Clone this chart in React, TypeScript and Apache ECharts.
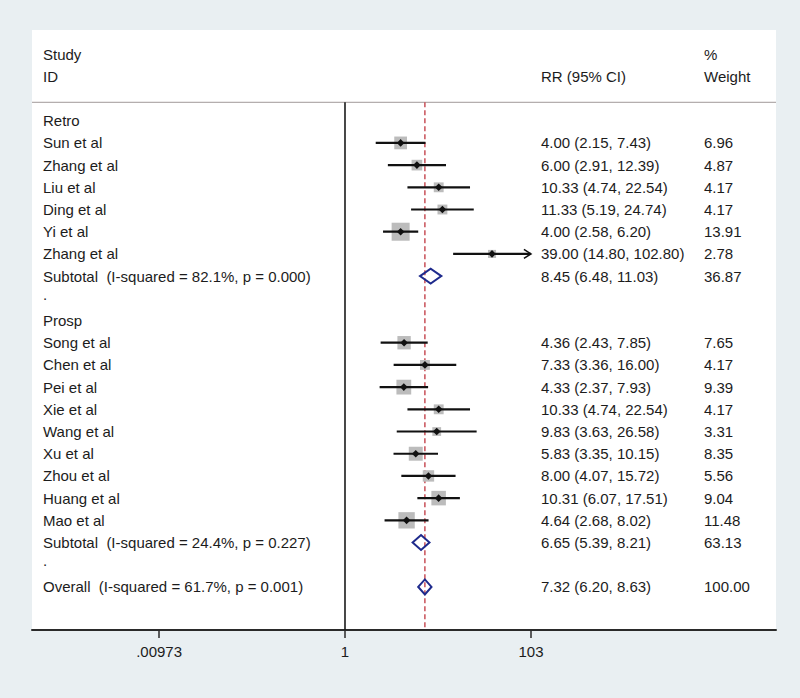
import React, { useEffect, useRef } from "react";
import * as echarts from "echarts";

// ---- data ----
const retroStudies = ["Sun et al", "Zhang et al", "Liu et al", "Ding et al", "Yi et al", "Zhang et al"];
const retroRR = [4.0, 6.0, 10.33, 11.33, 4.0, 39.0];
const retroLow = [2.15, 2.91, 4.74, 5.19, 2.58, 14.8];
const retroHigh = [7.43, 12.39, 22.54, 24.74, 6.2, 102.8];
const retroWeight = [6.96, 4.87, 4.17, 4.17, 13.91, 2.78];

const prospStudies = ["Song et al", "Chen et al", "Pei et al", "Xie et al", "Wang et al", "Xu et al", "Zhou et al", "Huang et al", "Mao et al"];
const prospRR = [4.36, 7.33, 4.33, 10.33, 9.83, 5.83, 8.0, 10.31, 4.64];
const prospLow = [2.43, 3.36, 2.37, 4.74, 3.63, 3.35, 4.07, 6.07, 2.68];
const prospHigh = [7.85, 16.0, 7.93, 22.54, 26.58, 10.15, 15.72, 17.51, 8.02];
const prospWeight = [7.65, 4.17, 9.39, 4.17, 3.31, 8.35, 5.56, 9.04, 11.48];

const pooledLabels = [
  "Subtotal  (I-squared = 82.1%, p = 0.000)",
  "Subtotal  (I-squared = 24.4%, p = 0.227)",
  "Overall  (I-squared = 61.7%, p = 0.001)",
];
const pooledRR = [8.45, 6.65, 7.32];
const pooledLow = [6.48, 5.39, 6.2];
const pooledHigh = [11.03, 8.21, 8.63];
const pooledWeight = [36.87, 63.13, 100.0];

const groupLabels = ["Retro", "Prosp"];
const headerLeft = ["Study", "ID"];
const headerCI = "RR (95% CI)";
const headerWeight = ["%", "Weight"];

const tickValues = [0.00973, 1, 103];
const tickLabels = [".00973", "1", "103"];

// ---- build rows ----
type Row = { row: number; kind: string; label: string; rr?: number; lo?: number; hi?: number; w?: number };
const rows: Row[] = [];
let r = 0;
const addGroup = (gi: number, names: string[], rr: number[], lo: number[], hi: number[], w: number[]) => {
  rows.push({ row: r++, kind: "group", label: groupLabels[gi] });
  names.forEach((n, i) => rows.push({ row: r++, kind: "study", label: n, rr: rr[i], lo: lo[i], hi: hi[i], w: w[i] }));
  rows.push({ row: r++, kind: "pooled", label: pooledLabels[gi], rr: pooledRR[gi], lo: pooledLow[gi], hi: pooledHigh[gi], w: pooledWeight[gi] });
  rows.push({ row: r++, kind: "dot", label: "." });
};
addGroup(0, retroStudies, retroRR, retroLow, retroHigh, retroWeight);
addGroup(1, prospStudies, prospRR, prospLow, prospHigh, prospWeight);
rows.push({ row: r++, kind: "pooled", label: pooledLabels[2], rr: pooledRR[2], lo: pooledLow[2], hi: pooledHigh[2], w: pooledWeight[2] });
rows.push({ row: -3, kind: "header", label: headerLeft[0] });
rows.push({ row: -2, kind: "header", label: headerLeft[1] });

const X_MIN = -3.387;
const X_MAX = 4.664;
const Y_MIN = -4.086;
const Y_MAX = 22.94;
const SEP = -0.83;
const FONT = '"Liberation Sans", Arial, Helvetica, sans-serif';
const TXT = "#1c1c1c";

const lg = (v: number) => Math.log10(v);

export default function App() {
  const ref = useRef<HTMLDivElement>(null);
  useEffect(() => {
    if (!ref.current) return;
    const chart = echarts.init(ref.current, undefined, { renderer: "svg" });
    const tickPos = tickValues.map(lg);
    const txt = (x: number, y: number, text: string) => ({
      type: "text",
      x,
      y,
      style: { text, fill: TXT, fontSize: 15, fontFamily: FONT, align: "left", verticalAlign: "middle" },
    });
    const option: any = {
      animation: false,
      backgroundColor: "#e9eff2",
      grid: { left: 32, right: 24, top: 30, bottom: 68, show: true, backgroundColor: "#ffffff", borderWidth: 0 },
      xAxis: {
        type: "value",
        min: X_MIN,
        max: X_MAX,
        splitLine: { show: false },
        axisLine: { show: true, onZero: false, lineStyle: { color: "#2a2a2a", width: 2 } },
        axisTick: { show: true, customValues: tickPos, length: 8, lineStyle: { color: "#2a2a2a", width: 1.5 } },
        axisLabel: {
          customValues: tickPos,
          margin: 14,
          color: TXT,
          fontSize: 15,
          fontFamily: FONT,
          formatter: (v: number) => {
            let best = 0;
            tickPos.forEach((t, i) => {
              if (Math.abs(t - v) < Math.abs(tickPos[best] - v)) best = i;
            });
            return tickLabels[best];
          },
        },
      },
      yAxis: { type: "value", inverse: true, min: Y_MIN, max: Y_MAX, show: false },
      graphic: [
        txt(541, 120.7 + 22.2 * -2, headerCI),
        txt(704, 120.7 + 22.2 * -3, headerWeight[0]),
        txt(704, 120.7 + 22.2 * -2, headerWeight[1]),
      ],
      series: [
        {
          type: "line",
          data: [[X_MIN, SEP], [X_MAX, SEP]],
          symbol: "none",
          lineStyle: { color: "#a09898", width: 1 },
          silent: true,
          z: 1,
        },
        {
          type: "line",
          data: [[0, SEP], [0, Y_MAX]],
          symbol: "none",
          lineStyle: { color: "#1a1a1a", width: 1.6 },
          silent: true,
          z: 1,
        },
        {
          type: "line",
          data: [[lg(pooledRR[2]), SEP], [lg(pooledRR[2]), Y_MAX]],
          symbol: "none",
          lineStyle: { color: "#c85058", width: 1.5, type: [5, 3] },
          silent: true,
          z: 2,
        },
        {
          type: "custom",
          z: 3,
          silent: true,
          data: rows.map((d) => [0, d.row]),
          renderItem: (params: any, api: any) => {
            const d = rows[params.dataIndex];
            const y = api.coord([0, d.row])[1];
            const children: any[] = [];
            if (d.kind === "study") {
              const xr = api.coord([lg(d.rr!), d.row])[0];
              const xl = api.coord([lg(d.lo!), d.row])[0];
              const xh = api.coord([lg(d.hi!), d.row])[0];
              const s = 4.83 * Math.sqrt(d.w!);
              children.push({ type: "rect", shape: { x: xr - s / 2, y: y - s / 2, width: s, height: s }, style: { fill: "#bcbcbc" } });
              children.push({ type: "line", shape: { x1: xl, y1: y, x2: xh, y2: y }, style: { stroke: "#111111", lineWidth: 2.2 } });
              if (d.hi! > 100) {
                children.push({
                  type: "polyline",
                  shape: { points: [[xh - 7, y - 4.5], [xh, y], [xh - 7, y + 4.5]] },
                  style: { stroke: "#111111", lineWidth: 1.6, fill: "none" },
                });
              }
              children.push({
                type: "polygon",
                shape: { points: [[xr - 3.8, y], [xr, y - 3.8], [xr + 3.8, y], [xr, y + 3.8]] },
                style: { fill: "#111111" },
              });
            } else if (d.kind === "pooled") {
              const xr = api.coord([lg(d.rr!), d.row])[0];
              const xl = api.coord([lg(d.lo!), d.row])[0];
              const xh = api.coord([lg(d.hi!), d.row])[0];
              children.push({
                type: "polygon",
                shape: { points: [[xl, y], [xr, y - 7.5], [xh, y], [xr, y + 7.5]] },
                style: { fill: "none", stroke: "#1e2a8c", lineWidth: 2 },
              });
            }
            children.push(txt(43, d.kind === "dot" ? y - 4 : y, d.label));
            if (d.kind === "study" || d.kind === "pooled") {
              children.push(txt(541, y, `${d.rr!.toFixed(2)} (${d.lo!.toFixed(2)}, ${d.hi!.toFixed(2)})`));
              children.push(txt(704, y, d.w!.toFixed(2)));
            }
            return { type: "group", children };
          },
        },
      ],
    };
    chart.setOption(option);
    return () => chart.dispose();
  }, []);
  return <div ref={ref} style={{ position: "absolute", left: 0, top: 0, width: 800, height: 698 }} />;
}
